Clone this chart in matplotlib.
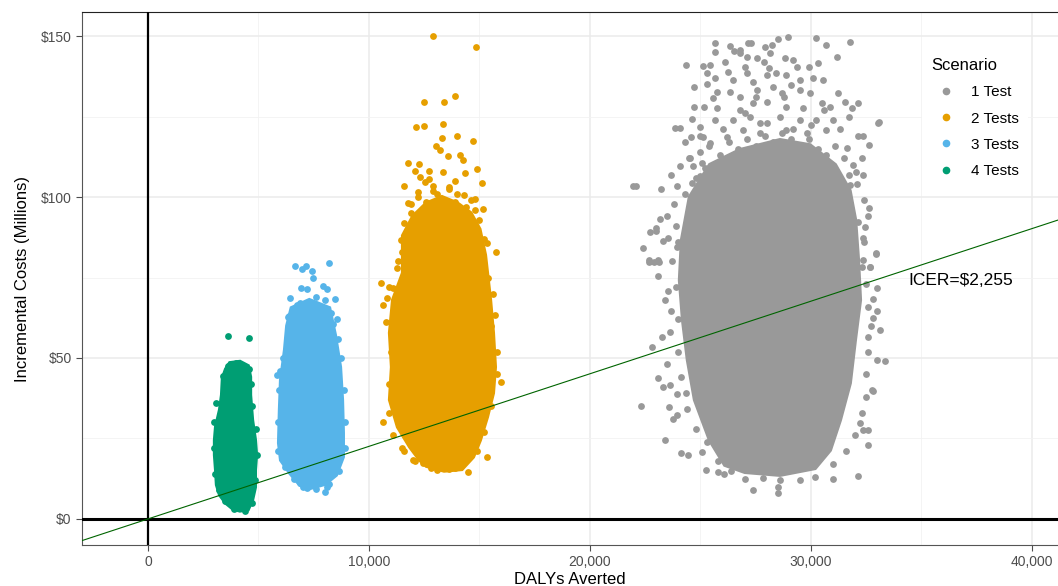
import numpy as np
import matplotlib
matplotlib.use('Agg')
import matplotlib.pyplot as plt
from matplotlib.lines import Line2D
from matplotlib.ticker import FuncFormatter, MultipleLocator

plt.rcParams['font.family'] = ['Liberation Sans Narrow', 'Liberation Sans', 'DejaVu Sans']

# DALYs averted in thousands, incremental cost in $ millions
scenarios = ['1 Test', '2 Tests', '3 Tests', '4 Tests']
colors = ['#999999', '#E69F00', '#56B4E9', '#009E73']
icer = 2255

# dense core outline of each cloud
core_x_1 = [25.43, 26.79, 28.60, 29.95, 31.09, 31.75, 32.00, 32.13, 32.22, 31.99, 31.76, 31.31,
            30.86, 30.18, 28.60, 27.01, 26.11, 25.43, 24.75, 24.43, 24.21, 24.07, 24.16, 24.52]
core_y_1 = [110.0, 114.6, 117.7, 116.1, 110.0, 102.0, 92.9, 80.4, 68.0, 55.6, 42.2, 30.7,
            21.4, 15.8, 13.7, 14.6, 16.8, 24.5, 37.0, 49.4, 61.8, 74.2, 86.6, 100.0]
core_x_2 = [11.54, 12.00, 12.60, 13.30, 14.00, 14.60, 15.00, 15.25, 15.48, 15.61, 15.70, 15.61,
            15.34, 15.02, 14.71, 14.20, 13.40, 12.60, 12.31, 11.86, 11.31, 10.95, 11.04, 10.95,
            11.09, 11.54]
core_y_2 = [88.0, 94.0, 98.0, 100.0, 98.0, 95.0, 90.0, 82.0, 68.0, 57.8, 47.2, 39.1,
            31.7, 24.5, 19.3, 15.5, 15.0, 16.5, 18.3, 22.4, 28.6, 37.0, 47.2, 57.8,
            68.0, 76.4]
core_x_3 = [6.50, 7.30, 8.20, 8.46, 8.69, 8.78, 8.82, 8.82, 8.51, 8.01, 7.33, 6.88, 6.43,
            6.02, 5.93, 5.97, 6.02, 6.20, 6.30]
core_y_3 = [65.5, 68.0, 65.5, 57.1, 47.2, 37.0, 26.7, 19.3, 13.7, 10.9, 9.6, 10.6, 14.3,
            18.3, 23.6, 33.9, 43.2, 52.5, 60.0]
core_x_4 = [3.71, 4.16, 4.52, 4.62, 4.62, 4.71, 4.84, 4.89, 4.84, 4.84, 4.71, 4.52, 4.16,
            3.85, 3.53, 3.26, 3.12, 3.08, 3.03, 3.03, 3.08, 3.26, 3.35, 3.39, 3.53]
core_y_4 = [48.4, 48.8, 47.5, 44.1, 38.5, 30.7, 24.5, 19.9, 15.2, 9.9, 5.9, 3.0, 2.6,
            3.2, 5.0, 7.5, 10.6, 15.2, 19.9, 24.5, 28.6, 33.9, 38.5, 43.8, 46.5]

# single simulations visible outside (or on the rim of) the cores
pts_x_1 = [25.65, 25.65, 26.33, 27.13, 27.31, 26.81, 27.94, 28.25, 28.52, 28.94, 30.21, 30.66,
           31.79, 31.16, 24.33, 25.12, 25.43, 26.10, 26.26, 26.78, 27.09, 27.54, 27.87, 28.14,
           28.82, 29.20, 29.35, 29.92, 25.65, 25.28, 26.48, 27.09, 27.39, 27.99, 28.44, 28.89,
           29.50, 30.10, 30.55, 24.70, 25.73, 25.58, 26.33, 26.78, 27.54, 28.29, 28.67, 29.50,
           29.95, 31.23, 30.52, 30.86, 31.53, 32.14, 31.84, 25.15, 25.73, 26.78, 27.39, 27.99,
           28.89, 29.65, 24.60, 23.84, 24.07, 24.97, 25.65, 26.48, 27.24, 27.69, 28.59, 29.50,
           30.25, 31.01, 33.04, 24.55, 25.12, 25.43, 26.18, 26.93, 27.69, 28.89, 29.80, 30.70,
           32.14, 32.36, 32.63, 24.52, 24.07, 24.67, 23.66, 25.09, 22.08, 23.21, 23.96, 24.60,
           24.97, 31.61, 32.06, 32.36, 31.76, 31.31, 32.63, 32.44, 23.16, 22.71, 23.01, 22.38,
           23.54, 23.92, 32.14, 32.36, 32.69, 32.94, 32.33, 22.68, 23.09, 22.68, 23.13, 23.09,
           23.54, 23.69, 23.24, 22.79, 23.09, 23.32, 23.62, 22.30, 23.59, 23.96, 24.34, 23.74,
           23.96, 23.39, 24.11, 24.45, 25.05, 25.25, 25.80, 26.06, 27.36, 28.49, 28.59, 27.84,
           31.01, 32.14, 32.59, 32.36, 32.21, 33.00, 33.34, 32.82, 32.82, 32.59, 32.82, 32.97,
           32.94, 32.66, 32.36, 28.51, 21.95, 22.99, 22.90, 33.08, 33.12, 32.76, 32.58,
           24.50, 25.00, 25.40, 25.90, 26.30, 26.70, 27.10, 27.50, 27.90, 28.30, 28.70, 29.10,
           29.50, 29.90, 30.30, 30.70, 31.10, 31.50, 31.90, 32.30, 24.80, 25.20, 31.70, 32.10,
           24.30, 23.80, 32.40, 32.60, 23.50, 23.90, 24.00, 23.70, 23.90, 23.40, 24.00, 23.60,
           24.00, 23.50, 24.10, 24.40, 24.80, 25.30, 25.80, 26.40, 27.00, 29.50, 30.20, 31.00,
           31.60, 32.00, 32.30, 32.50, 32.50, 32.60, 32.70, 32.60, 32.50, 32.40, 23.30, 33.00,
           27.00, 26.00, 28.00, 29.20, 30.00, 31.30, 24.30, 25.00, 30.60, 27.50, 28.80, 25.30,
           29.10, 27.00, 28.10, 26.50, 30.30, 24.70, 31.70]
pts_y_1 = [148.0, 145.0, 147.0, 148.0, 148.0, 145.7, 146.7, 147.2, 149.0, 149.8, 149.5, 147.4,
           148.1, 143.6, 141.0, 140.7, 141.0, 142.1, 139.0, 144.7, 143.6, 143.1, 142.1, 144.7,
           143.1, 142.6, 140.5, 140.5, 136.9, 138.4, 136.4, 138.4, 135.9, 137.9, 138.4, 137.9,
           136.4, 136.9, 136.4, 134.3, 132.7, 130.7, 132.7, 131.2, 133.3, 134.3, 132.2, 133.3,
           132.2, 132.4, 129.1, 128.1, 129.6, 129.1, 127.6, 128.1, 127.6, 127.1, 129.1, 129.6,
           128.1, 127.6, 124.3, 121.4, 121.6, 121.9, 124.0, 124.0, 125.0, 122.9, 125.0, 124.0,
           124.0, 124.0, 122.9, 118.8, 118.8, 116.7, 118.8, 120.8, 119.8, 120.8, 119.8, 120.8,
           119.1, 119.1, 116.2, 112.0, 109.5, 109.5, 106.9, 110.7, 103.3, 102.4, 103.3, 104.3,
           106.4, 115.2, 107.9, 106.9, 103.8, 103.3, 96.5, 90.8, 93.1, 89.0, 89.5, 84.3,
           87.2, 84.6, 92.4, 87.2, 78.4, 82.5, 78.4, 80.3, 80.3, 79.9, 79.9, 75.5,
           70.9, 64.7, 56.4, 53.5, 43.7, 41.1, 41.6, 35.2, 34.7, 38.8, 39.2, 31.0,
           32.3, 24.5, 20.6, 19.9, 20.9, 15.2, 14.7, 14.0, 9.0, 9.9, 12.1, 12.6,
           12.3, 13.4, 23.0, 27.6, 29.9, 49.4, 49.2, 39.6, 62.3, 56.6, 68.2, 71.6,
           82.3, 78.4, 80.4, 8.1, 103.4, 90.4, 79.8, 123.3, 58.7, 40.1, 27.6,
           112.0, 114.0, 116.0, 113.0, 117.0, 115.0, 118.0, 116.0, 119.0, 117.0, 120.0, 118.0,
           116.0, 118.0, 115.0, 113.0, 116.0, 112.0, 110.0, 112.0, 106.0, 109.0, 107.0, 104.0,
           101.0, 98.0, 99.0, 94.0, 94.0, 91.0, 86.0, 80.0, 72.0, 68.0, 62.0, 58.0,
           52.0, 48.0, 44.0, 34.0, 28.0, 24.0, 18.0, 15.0, 12.5, 12.0, 13.0, 17.0,
           21.0, 26.0, 33.0, 38.0, 45.0, 52.0, 60.0, 66.0, 73.0, 86.0, 86.5, 64.5,
           126.0, 121.0, 123.0, 121.0, 122.5, 121.0, 117.0, 119.0, 127.0, 131.0, 131.0, 135.0,
           134.8, 140.5, 140.0, 145.5, 141.5, 128.0, 125.0]
pts_x_2 = [12.90, 14.84, 12.49, 13.39, 13.89, 12.13, 12.49, 13.35, 13.30, 13.98, 14.71, 13.03,
           13.21, 11.76, 12.26, 13.57, 14.12, 14.25, 12.08, 12.71, 13.35, 14.89, 12.31, 11.58,
           15.11, 11.76, 14.80, 15.16, 12.53, 14.34, 12.90, 13.60, 14.00, 12.20, 13.20, 14.40,
           11.90, 12.60, 13.80, 15.00, 11.60, 12.30, 14.60, 13.50, 10.54, 11.09, 10.81, 10.63,
           10.77, 10.63, 15.97, 15.70, 15.75, 15.34, 11.27, 11.45, 13.08, 14.48, 15.34, 12.44,
           13.62, 11.99, 11.49,
           11.70, 12.00, 12.40, 12.80, 13.30, 13.70, 14.10, 14.50, 14.90, 15.20, 11.50, 12.60,
           13.10, 13.90, 14.60, 11.30, 15.40, 15.50, 15.80, 15.80, 11.00, 10.90, 10.90, 11.10,
           11.60, 12.10, 12.80, 13.90, 14.90, 15.20, 15.50, 11.20, 10.90, 15.60,
           12.20, 12.90, 13.60, 14.30, 12.70, 13.90, 11.90, 14.80]
pts_y_2 = [150.0, 146.6, 129.5, 129.5, 131.4, 121.7, 122.0, 122.7, 118.3, 118.9, 117.4, 115.8,
           114.6, 110.6, 110.2, 112.7, 113.0, 111.5, 108.1, 108.1, 107.8, 108.7, 106.2, 103.4,
           104.3, 98.1, 99.4, 96.3, 104.7, 107.5, 102.0, 103.0, 101.0, 100.0, 99.0, 97.0,
           95.0, 96.0, 95.0, 93.0, 92.0, 93.5, 93.0, 97.0, 73.3, 71.7, 68.6, 66.5,
           61.2, 30.1, 42.5, 63.4, 82.9, 85.7, 77.9, 86.6, 15.2, 14.6, 19.3, 17.4,
           15.5, 18.3, 22.0,
           88.0, 91.0, 94.0, 93.5, 95.0, 94.0, 93.0, 90.0, 89.0, 87.0, 83.0, 98.5,
           101.0, 98.5, 99.0, 80.0, 75.0, 60.0, 52.0, 45.0, 52.0, 42.0, 33.0, 26.0,
           21.0, 18.0, 15.8, 15.8, 21.0, 27.0, 35.0, 62.0, 72.0, 70.0,
           101.5, 103.5, 102.5, 100.5, 105.5, 105.0, 98.0, 96.0]
pts_x_3 = [6.65, 6.97, 7.15, 7.42, 7.47, 8.19, 6.92, 7.19, 6.43, 7.92, 8.10, 8.46, 8.28, 8.37,
           6.33, 6.74, 5.84, 5.97, 8.01, 8.10, 7.19, 6.88,
           6.30, 6.10, 5.95, 5.90, 5.90, 6.20, 6.60, 7.00, 7.60, 8.20, 8.65, 8.90, 8.90, 8.85,
           8.75, 8.60, 8.55, 6.40, 6.90, 7.60, 8.00, 7.20]
pts_y_3 = [78.6, 77.6, 78.6, 77.0, 74.8, 79.5, 71.7, 71.4, 68.6, 72.4, 71.4, 68.3, 64.0, 60.6,
           62.7, 66.5, 44.7, 46.0, 8.4, 9.9, 9.6, 11.2,
           55.0, 50.0, 40.0, 30.0, 21.0, 16.0, 12.5, 10.0, 9.2, 11.0, 15.0, 22.0, 30.0, 40.0,
           50.0, 56.0, 62.0, 63.0, 67.0, 69.0, 68.0, 66.0]
pts_x_4 = [3.62, 4.57, 3.10, 3.00, 2.98, 3.05, 3.20, 3.50, 3.90, 4.40, 4.70, 4.85, 4.95, 4.88,
           4.72, 4.66, 4.55, 3.60, 4.00, 3.40]
pts_y_4 = [56.8, 56.2, 36.0, 30.0, 22.0, 14.0, 9.0, 5.5, 3.0, 2.5, 5.0, 12.0, 20.0, 28.0,
           35.0, 42.0, 46.5, 47.5, 48.5, 44.5]

cores = [(core_x_1, core_y_1), (core_x_2, core_y_2), (core_x_3, core_y_3), (core_x_4, core_y_4)]
points = [(pts_x_1, pts_y_1), (pts_x_2, pts_y_2), (pts_x_3, pts_y_3), (pts_x_4, pts_y_4)]

fig = plt.figure(figsize=(10.58, 5.86), dpi=100)
ax = fig.add_axes([82 / 1058, 41 / 586, 976 / 1058, 533 / 586])

for (cx, cy), (px, py), c in zip(cores, points, colors):
    ax.fill(np.array(cx) * 1000, cy, color=c, lw=3, zorder=2)
    ax.scatter(np.array(px) * 1000, py, s=24, color=c, linewidths=0, zorder=2)

ax.axhline(0, color='black', lw=2.2, zorder=3)
ax.axvline(0, color='black', lw=1.6, zorder=3)
ax.axline((0, 0), slope=icer / 1e6, color='#006400', lw=0.8, zorder=4)
ax.text(36800, 74.2, 'ICER=$2,255', fontsize=12.5, ha='center', va='center',
        family=['Liberation Sans', 'DejaVu Sans'], zorder=5)

ax.set_xlim(-2986, 41180)
ax.set_ylim(-8.1, 157.5)
ax.xaxis.set_major_locator(MultipleLocator(10000))
ax.xaxis.set_minor_locator(MultipleLocator(5000))
ax.yaxis.set_major_locator(MultipleLocator(50))
ax.yaxis.set_minor_locator(MultipleLocator(25))
ax.xaxis.set_major_formatter(FuncFormatter(lambda v, p: f'{int(v):,}'))
ax.yaxis.set_major_formatter(FuncFormatter(lambda v, p: f'${int(v)}'))
ax.grid(which='major', color='#ebebeb', lw=1.1, zorder=0)
ax.grid(which='minor', color='#f2f2f2', lw=0.6, zorder=0)
ax.set_axisbelow(True)
ax.tick_params(which='major', colors='#4d4d4d', labelsize=10, length=4, width=0.8)
ax.tick_params(which='minor', length=0)
for side in ['left', 'bottom']:
    ax.spines[side].set_color('#555555')
ax.spines['top'].set_color('#222222')
ax.spines['right'].set_visible(False)

ax.set_xlabel('DALYs Averted', fontsize=12, labelpad=2)
ax.set_ylabel('Incremental Costs (Millions)', fontsize=12, labelpad=8)

handles = [Line2D([], [], marker='o', ls='', color=c, markersize=4.5) for c in colors]
leg = ax.legend(handles, scenarios, title='Scenario', loc='upper right',
                bbox_to_anchor=(0.977, 0.945), frameon=True,
                title_fontsize=12, handletextpad=0.6, labelspacing=0.8, borderpad=0.6,
                prop={'family': ['Liberation Sans', 'DejaVu Sans'], 'size': 11})
leg.get_frame().set_edgecolor('none')
leg.get_frame().set_facecolor('white')
leg.get_frame().set_alpha(1)
leg.get_title().set_family(['Liberation Sans', 'DejaVu Sans'])
leg._legend_box.align = 'left'

fig.savefig('out.png', dpi=100)
